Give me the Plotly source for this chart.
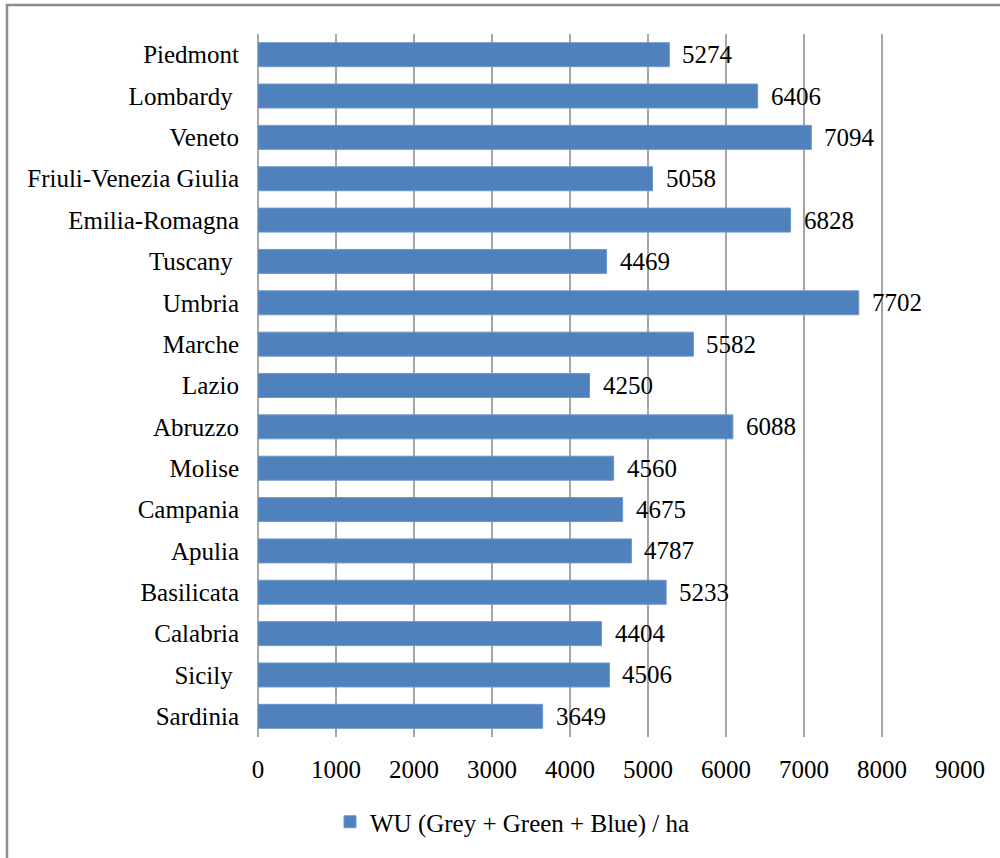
import plotly.graph_objects as go

regions = ["Piedmont", "Lombardy\u00a0", "Veneto", "Friuli-Venezia Giulia", "Emilia-Romagna",
           "Tuscany\u00a0", "Umbria", "Marche", "Lazio", "Abruzzo", "Molise", "Campania",
           "Apulia", "Basilicata", "Calabria", "Sicily\u00a0", "Sardinia"]
wu_values = [5274, 6406, 7094, 5058, 6828, 4469, 7702, 5582, 4250, 6088, 4560, 4675,
             4787, 5233, 4404, 4506, 3649]
x_ticks = [0, 1000, 2000, 3000, 4000, 5000, 6000, 7000, 8000, 9000]
series_name = "WU (Grey + Green + Blue) / ha"

FONT = "Liberation Serif"
FS = 25
BLUE = "#4F81BD"
GRID = "#a6a6a6"

W, H = 1000, 858
L, R, T, B = 258, 40, 34, 121
pw, ph = W - L - R, H - T - B

fig = go.Figure()
fig.add_trace(go.Bar(
    x=wu_values, y=regions, orientation="h", name=series_name,
    marker=dict(color=BLUE, line=dict(color="#6f97c9", width=1)),
    showlegend=True,
))

annotations = []
for r, v in zip(regions, wu_values):
    annotations.append(dict(
        x=v, y=r, xref="x", yref="y", text=str(v), showarrow=False,
        xanchor="left", yanchor="middle", xshift=11,
        font=dict(family=FONT, size=FS, color="black"),
    ))

def px_to_paper_x(p):
    return (p - L) / pw

def px_to_paper_y(p):
    return (H - B - p) / ph

fig.update_layout(
    width=W, height=H,
    margin=dict(l=L, r=R, t=T, b=B, pad=0),
    paper_bgcolor="white", plot_bgcolor="white",
    font=dict(family=FONT, size=FS, color="black"),
    bargap=0.42,
    xaxis=dict(
        range=[0, 9000], tickvals=x_ticks, ticktext=[str(t) for t in x_ticks],
        showgrid=True, gridcolor=GRID, gridwidth=1.5,
        zeroline=True, zerolinecolor=GRID, zerolinewidth=1.5,
        showline=False, ticks="", ticklabelstandoff=15,
        tickfont=dict(family=FONT, size=FS, color="black"),
        fixedrange=True,
    ),
    yaxis=dict(
        categoryorder="array", categoryarray=regions,
        autorange=False, range=[len(regions) - 0.5, -0.5],
        showgrid=False, zeroline=False, showline=False, ticks="",
        ticklabelstandoff=18,
        tickfont=dict(family=FONT, size=FS, color="black"),
    ),
    legend=dict(
        orientation="h", x=px_to_paper_x(330), xanchor="left",
        y=px_to_paper_y(822), yanchor="middle",
        font=dict(family=FONT, size=FS, color="black"),
        bgcolor="rgba(0,0,0,0)",
    ),
    annotations=annotations,
    shapes=[dict(
        type="rect", xref="paper", yref="paper",
        x0=px_to_paper_x(7), x1=px_to_paper_x(1012),
        y0=px_to_paper_y(875), y1=px_to_paper_y(5),
        line=dict(color="#8c8c8c", width=2.5), fillcolor="rgba(0,0,0,0)",
        layer="below",
    )],
)

fig.write_html("out.html")
